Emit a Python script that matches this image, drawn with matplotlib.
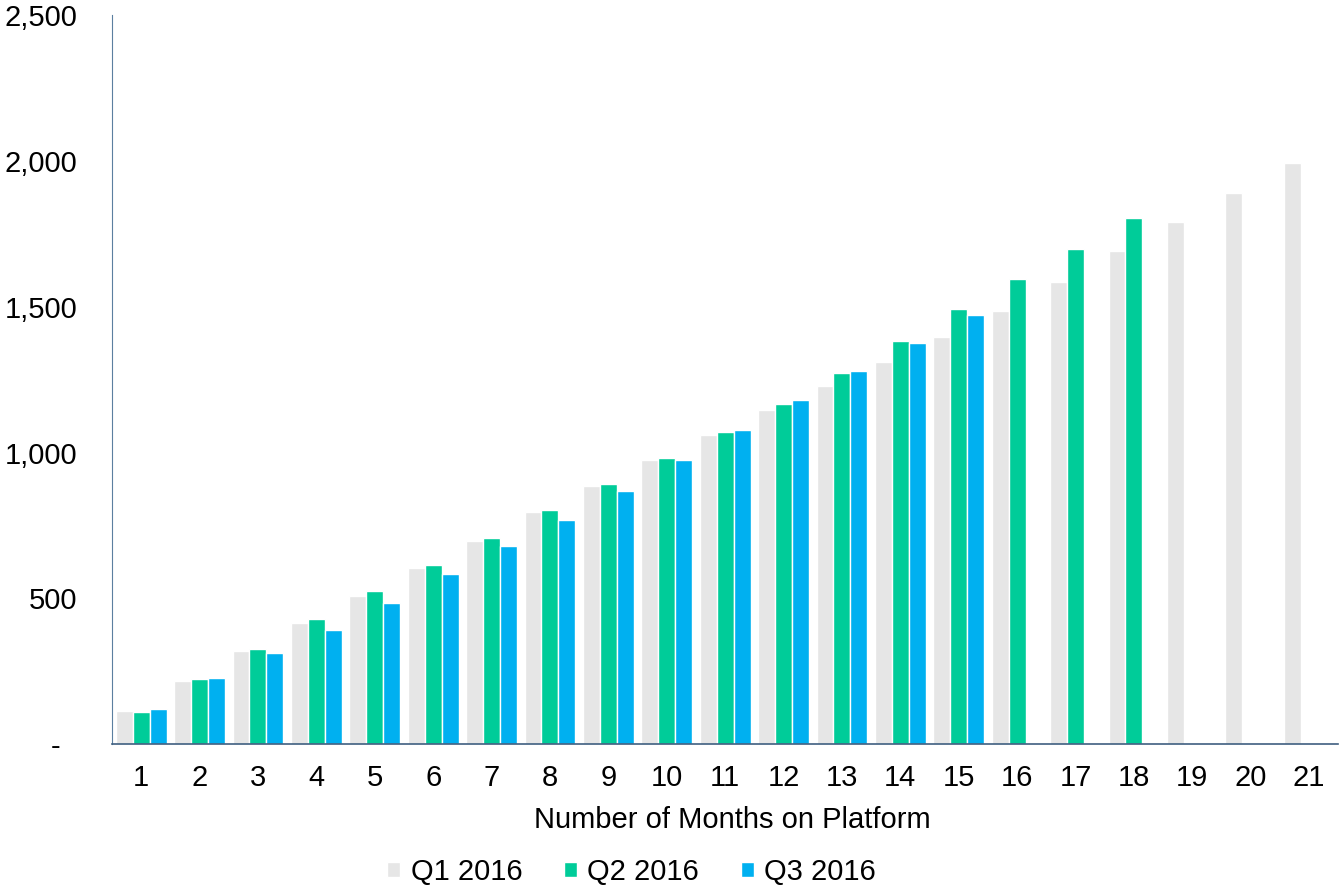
import numpy as np
import matplotlib.pyplot as plt
from matplotlib.ticker import FuncFormatter

plt.rcParams['font.family'] = ['Liberation Sans', 'DejaVu Sans']

# cumulative value by months on platform, per cohort
months = list(range(1, 22))
q1_2016 = [114, 217, 321, 415, 508, 603, 697, 797, 886, 976, 1061, 1145, 1228,
           1310, 1397, 1487, 1586, 1690, 1792, 1891, 1994]
q2_2016 = [112, 223, 328, 429, 524, 615, 707, 803, 892, 983, 1072, 1167, 1272,
           1383, 1492, 1595, 1699, 1803]
q3_2016 = [120, 226, 312, 391, 483, 582, 679, 769, 867, 974, 1078, 1180, 1279,
           1376, 1472]

series = [('Q1 2016', q1_2016, '#e6e6e6'),
          ('Q2 2016', q2_2016, '#00cc99'),
          ('Q3 2016', q3_2016, '#00b0f0')]

fig = plt.figure(figsize=(13.41, 8.86), dpi=100)
ax = fig.add_axes([0.0835, 0.160, 0.9145, 0.823])

w = 0.29
x = np.array(months)
for i, (name, vals, col) in enumerate(series):
    pos = x[:len(vals)] + (i - 1) * w
    ax.bar(pos, vals, width=w, color=col, edgecolor='white', linewidth=1, label=name)

ax.set_xlim(0.5, 21.5)
ax.set_ylim(0, 2500)
ax.set_xticks(months)
ax.set_yticks(range(0, 2501, 500))
ax.yaxis.set_major_formatter(FuncFormatter(lambda v, p: '-  ' if v == 0 else f'{int(v):,}'))
ax.tick_params(length=0, labelsize=21)
ax.tick_params(axis='x', pad=14)
ax.tick_params(axis='y', pad=25)

for s in ['top', 'right']:
    ax.spines[s].set_visible(False)
ax.spines['left'].set_color('#5b7fa0')
ax.spines['bottom'].set_color('#3f5f80')
ax.spines['bottom'].set_linewidth(1.2)

ax.set_xlabel('Number of Months on Platform', fontsize=21)
ax.xaxis.set_label_coords(0.506, -0.085)

fig.legend(loc='center', bbox_to_anchor=(0.471, 0.016), ncol=3, frameon=False,
           fontsize=21, handlelength=0.45, handleheight=0.45, handletextpad=0.35,
           columnspacing=1.43)

fig.savefig('out.png', dpi=100)
